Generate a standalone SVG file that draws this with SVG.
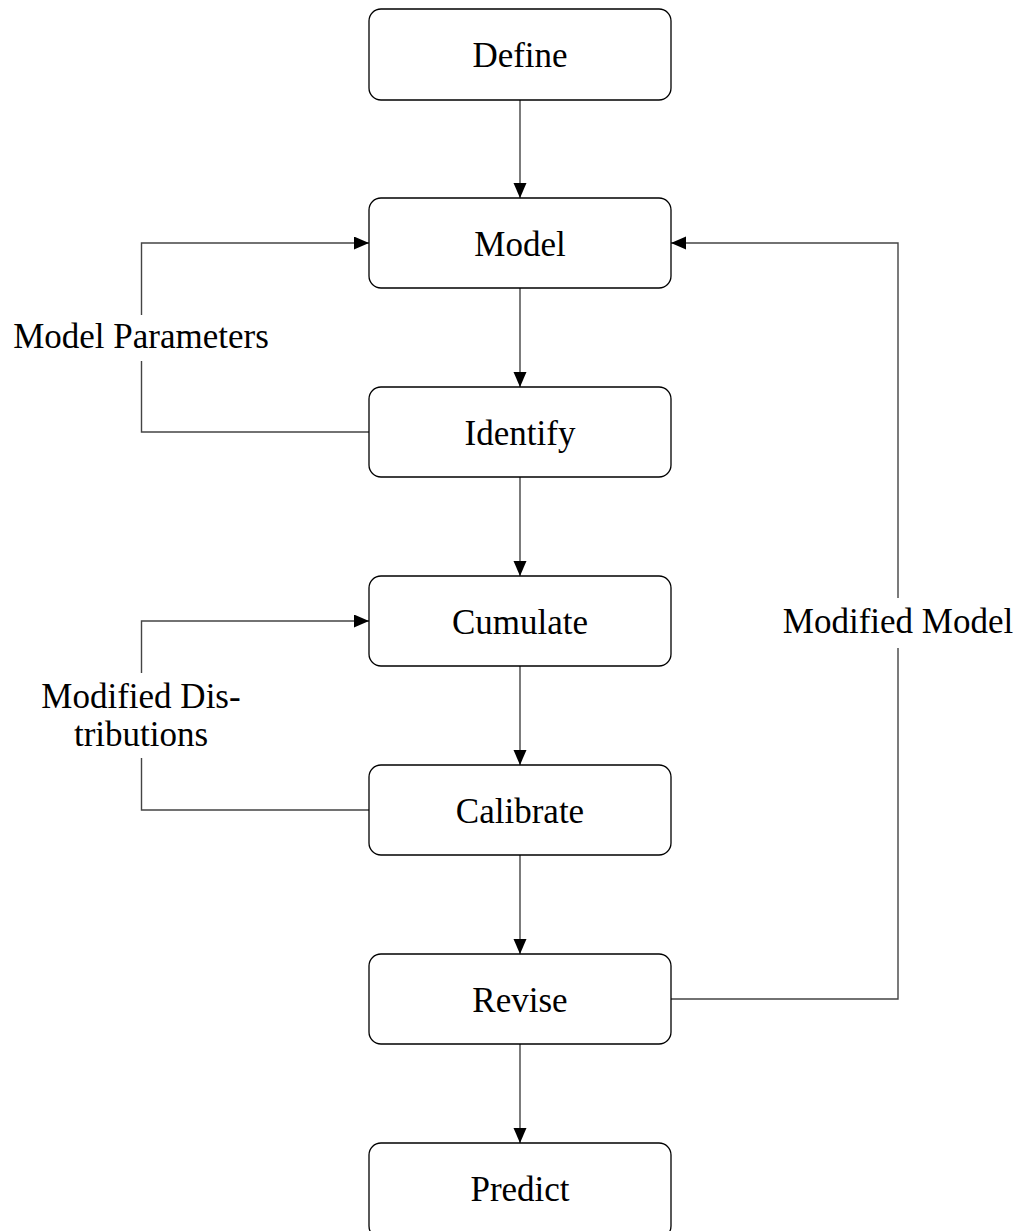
<svg xmlns="http://www.w3.org/2000/svg" width="1017" height="1231" viewBox="0 0 1017 1231">
<style>
.box{fill:#fff;stroke:#000;stroke-width:1.3}
.lbl{font-family:"Liberation Serif","Times New Roman",serif;font-size:35px;fill:#000;text-anchor:middle}
.con{fill:none;stroke:#444;stroke-width:1.4}
</style>
<defs>
<marker id="ah" markerUnits="userSpaceOnUse" markerWidth="18" markerHeight="16" refX="15" refY="6.5" orient="auto">
<path d="M0,0 L15,6.5 L0,13 Z" fill="#000"/>
</marker>
</defs>
<rect width="1017" height="1231" fill="#fff"/>
<g id="connectors">
<line class="con" x1="520" y1="100" x2="520" y2="198" marker-end="url(#ah)"/>
<line class="con" x1="520" y1="288" x2="520" y2="387" marker-end="url(#ah)"/>
<line class="con" x1="520" y1="477" x2="520" y2="576" marker-end="url(#ah)"/>
<line class="con" x1="520" y1="666" x2="520" y2="765" marker-end="url(#ah)"/>
<line class="con" x1="520" y1="855" x2="520" y2="954" marker-end="url(#ah)"/>
<line class="con" x1="520" y1="1044" x2="520" y2="1143" marker-end="url(#ah)"/>
<path class="con" d="M369,432 H141.5 V361"/>
<path class="con" d="M141.5,315 V243 H369" marker-end="url(#ah)"/>
<path class="con" d="M369,810 H141.5 V758"/>
<path class="con" d="M141.5,673 V621 H369" marker-end="url(#ah)"/>
<path class="con" d="M671,999 H898 V648"/>
<path class="con" d="M898,598 V243 H671" marker-end="url(#ah)"/>
</g>
<g id="define"><rect class="box" x="369" y="9" width="302" height="91" rx="12"/><text class="lbl" x="520" y="67">Define</text></g>
<g id="model"><rect class="box" x="369" y="198" width="302" height="90" rx="12"/><text class="lbl" x="520" y="256">Model</text></g>
<g id="identify"><rect class="box" x="369" y="387" width="302" height="90" rx="12"/><text class="lbl" x="520" y="445">Identify</text></g>
<g id="cumulate"><rect class="box" x="369" y="576" width="302" height="90" rx="12"/><text class="lbl" x="520" y="634">Cumulate</text></g>
<g id="calibrate"><rect class="box" x="369" y="765" width="302" height="90" rx="12"/><text class="lbl" x="520" y="823">Calibrate</text></g>
<g id="revise"><rect class="box" x="369" y="954" width="302" height="90" rx="12"/><text class="lbl" x="520" y="1012">Revise</text></g>
<g id="predict"><rect class="box" x="369" y="1143" width="302" height="95" rx="12"/><text class="lbl" x="520" y="1201">Predict</text></g>
<g id="labels">
<text class="lbl" x="141" y="348">Model Parameters</text>
<text class="lbl" x="141" y="708">Modified Dis-</text>
<text class="lbl" x="141" y="745.5">tributions</text>
<text class="lbl" x="898" y="633">Modified Model</text>
</g>
</svg>
